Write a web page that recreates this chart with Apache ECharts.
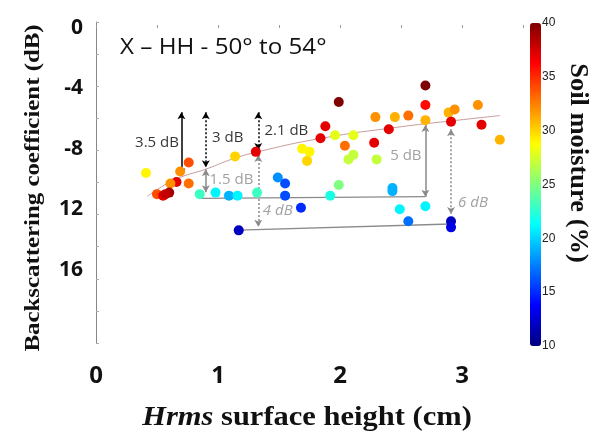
<!DOCTYPE html>
<html lang="en">
<head>
<meta charset="UTF-8">
<title>Backscattering vs Hrms</title>
<script src="https://cdn.jsdelivr.net/npm/echarts@6/dist/echarts.min.js"></script>
<style>html,body{margin:0;padding:0;background:#fff;}</style>
</head>
<body>
<div id="main" style="width:604px;height:432px;"></div>
<script>
// points: Hrms (cm), sigma0 (dB), soil moisture (%)
var hrms = [0.41,0.76,0.69,0.66,0.61,0.76,0.50,0.55,0.60,0.57,1.14,1.31,0.85,0.98,1.09,1.16,1.32,1.17,1.49,1.55,
            1.55,1.68,1.69,1.75,1.73,1.92,1.99,1.88,1.84,1.99,1.96,2.11,2.04,2.11,2.07,2.28,2.30,2.29,2.45,2.40,
            2.70,2.70,2.70,2.56,2.89,2.94,3.13,2.91,3.16,3.31,2.43,2.43,2.49,2.70,2.56,2.91,2.91];
var sigma = [-9.6,-8.9,-9.5,-10.2,-10.3,-10.3,-11.0,-11.1,-10.9,-11.0,-8.5,-8.2,-11.0,-10.9,-11.1,-11.1,-10.9,-13.4,-9.9,-10.3,
             -11.1,-11.9,-8.0,-8.2,-8.8,-11.1,-10.4,-6.5,-7.3,-4.9,-7.1,-7.1,-7.8,-8.4,-8.7,-7.6,-8.7,-5.9,-5.9,-6.7,
             -3.8,-5.1,-6.1,-5.8,-5.6,-5.4,-5.1,-6.2,-6.4,-7.4,-10.6,-10.8,-12.0,-11.8,-12.8,-12.8,-13.2];
var moisture = [29,34,32,37,32,33,34,37,39,38,30,37,23,21,19,21,23,12,18,16,
                16,15,29,29,30,22,25,37,37,40,28,28,33,27,27,37,27,32,31,37,
                40,36,31,33,31,32,32,37,37,31,19,19,21,21,17,12,13];

// fitted trend curve
var fitX = [0.42,0.64,0.92,1.11,1.33,1.85,2.46,2.98,3.31];
var fitY = [-11.15,-10.07,-9.29,-8.70,-8.19,-7.30,-6.58,-6.09,-5.80];

// grey reference lines
var low1X = [0.86, 2.70], low1Y = [-11.28, -11.17];
var low2X = [1.17, 2.91], low2Y = [-13.38, -12.98];

// arrows: [x, top, bottom]
var blackSolid = [[0.70, -5.58, -9.75]];
var blackDotted = [[0.90, -5.58, -9.22], [1.33, -5.58, -8.08]];
var greySolid = [[0.90, -9.36, -10.88], [2.70, -6.42, -11.17]];
var greyDotted = [[1.33, -8.41, -13.16], [2.91, -6.71, -12.32]];

// arrow labels: [x, y, text]
var blackNotes = [[0.50, -7.62, '3.5 dB'], [1.08, -7.28, '3 dB'], [1.56, -6.82, '2.1 dB']];
var greyNotes = [[1.11, -10.07, '1.5 dB'], [2.54, -8.48, '5 dB']];
var greyNotesItalic = [[1.49, -12.10, '4 dB'], [3.09, -11.57, '6 dB']];

var xLabelValues = [0, 1, 2, 3];
var yLabelValues = [0, -4, -8, -12, -16];
var yLabelTexts = ['0', '-4', '-8', '12', '16'];

var jet = ['#00007f','#0000ff','#007fff','#00ffff','#7fff7f','#ffff00','#ff7f00','#ff0000','#7f0000'];
var grey = '#8a8a8a';

var points = hrms.map(function (h, i) { return [h, sigma[i], moisture[i]]; });

function arrowLines(list, color, type) {
    return list.map(function (a) {
        return [
            { coord: [a[0], a[1]], lineStyle: { color: color, type: type, width: 1.5 } },
            { coord: [a[0], a[2]] }
        ];
    });
}

function noteSeries(name, list, color, italic) {
    return {
        name: name, type: 'scatter', symbolSize: 0, silent: true, z: 4,
        itemStyle: { color: 'rgba(0,0,0,0)' },
        data: list.map(function (n) { return [n[0], n[1], n[2]]; }),
        label: { show: true, position: 'inside', color: color, fontSize: 15,
                 fontStyle: italic ? 'italic' : 'normal', fontFamily: 'Open Sans',
                 formatter: function (p) { return p.data[2]; } }
    };
}

var myChart = echarts.init(document.getElementById('main'));

var option = {
    animation: false,
    grid: [
        { left: 96, top: 22, width: 427, height: 321 },
        { left: 530, top: 23, width: 11, height: 323 }
    ],
    xAxis: [{
        type: 'value', min: 0, max: 3.5, interval: 0.5,
        axisLine: { show: false },
        axisTick: { inside: true, length: 3, lineStyle: { color: '#999' } },
        splitLine: { show: false },
        axisLabel: {
            margin: 21, fontSize: 24, fontWeight: 'bold', color: '#111', fontFamily: 'Open Sans',
            formatter: function (v) { return xLabelValues.indexOf(v) >= 0 ? String(v) : ''; }
        }
    }, {
        type: 'value', gridIndex: 1, show: false, min: 0, max: 1
    }],
    yAxis: [{
        type: 'value', min: -20.86, max: 0.4,
        axisLine: { show: false },
        axisTick: { show: false },
        splitLine: { show: false },
        axisLabel: {
            customValues: yLabelValues,
            margin: 13, fontSize: 21, fontWeight: 'bold', color: '#111', fontFamily: 'Open Sans',
            formatter: function (v) {
                var k = yLabelValues.indexOf(v);
                return k >= 0 ? yLabelTexts[k] : '';
            }
        }
    }, {
        type: 'value', gridIndex: 1, position: 'right', min: 10, max: 40, interval: 5,
        axisLine: { show: false }, axisTick: { show: false }, splitLine: { show: false },
        axisLabel: { margin: 1, fontSize: 12, color: '#222', fontFamily: 'Liberation Sans' }
    }, {
        // minor tick marks of the left axis
        type: 'value', gridIndex: 0, position: 'left', min: 0, max: 10, interval: 1,
        axisLine: { show: true, lineStyle: { color: '#888', width: 1 } },
        axisTick: { inside: true, length: 3, lineStyle: { color: '#aaa' } },
        axisLabel: { show: false },
        splitLine: { show: false }
    }],
    visualMap: {
        type: 'continuous', min: 10, max: 40, dimension: 2, seriesIndex: 0,
        calculable: false, orient: 'vertical',
        left: 530, top: 23, itemWidth: 11, itemHeight: 323, padding: 0,
        text: null, hoverLink: false,
        inRange: { color: jet }
    },
    series: [{
        name: 'points', type: 'scatter', data: points,
        symbolSize: 10, z: 5, itemStyle: { opacity: 1 }
    }, {
        name: 'fit', type: 'line', smooth: true, showSymbol: false, symbol: 'none',
        data: fitX.map(function (x, i) { return [x, fitY[i]]; }),
        lineStyle: { color: '#c79a9a', width: 1 }, z: 2
    }, {
        name: 'low1', type: 'line', showSymbol: false, symbol: 'none',
        data: low1X.map(function (x, i) { return [x, low1Y[i]]; }),
        lineStyle: { color: grey, width: 1.3 }, z: 2
    }, {
        name: 'low2', type: 'line', showSymbol: false, symbol: 'none',
        data: low2X.map(function (x, i) { return [x, low2Y[i]]; }),
        lineStyle: { color: grey, width: 1.3 }, z: 2
    }, {
        name: 'arrows', type: 'line', data: [], z: 3,
        markLine: {
            silent: true, animation: false,
            symbol: ['arrow', 'arrow'], symbolSize: [6, 7],
            label: { show: false },
            data: [].concat(
                arrowLines(blackSolid, '#000', 'solid'),
                arrowLines(blackDotted, '#000', [2, 2]),
                arrowLines(greySolid, grey, 'solid'),
                arrowLines(greyDotted, grey, [2, 2])
            )
        }
    },
        noteSeries('notesBlack', blackNotes, '#000', false),
        noteSeries('notesGrey', greyNotes, grey, false),
        noteSeries('notesGreyItalic', greyNotesItalic, grey, true)
    ],
    graphic: [{
        type: 'text', x: 120, y: 48, scaleX: 1.1,
        style: { text: 'X – HH - 50° to 54°', font: '22px "Open Sans"', fill: '#111',
                 align: 'left', verticalAlign: 'middle', textAlign: 'left', textVerticalAlign: 'middle' }
    }, {
        type: 'text', x: 33, y: 188, rotation: Math.PI / 2, scaleX: 1.13,
        style: { text: 'Backscattering coefficient (dB)', font: 'bold 22px "Liberation Serif"', fill: '#111',
                 align: 'center', verticalAlign: 'middle', textAlign: 'center', textVerticalAlign: 'middle' }
    }, {
        type: 'text', x: 577, y: 163, rotation: -Math.PI / 2, scaleX: 1.06,
        style: { text: 'Soil moisture (%)', font: 'bold 25px "Liberation Serif"', fill: '#111',
                 align: 'center', verticalAlign: 'middle', textAlign: 'center', textVerticalAlign: 'middle' }
    }, {
        type: 'text', x: 307, y: 418, scaleX: 1.13,
        style: {
            text: '{i|Hrms} surface height (cm)',
            font: 'bold 27px "Liberation Serif"', fill: '#111',
            align: 'center', verticalAlign: 'middle', textAlign: 'center', textVerticalAlign: 'middle',
            rich: { i: { fontStyle: 'italic', fontWeight: 'bold', fontSize: 27, fontFamily: 'Liberation Serif' } }
        }
    }]
};

myChart.setOption(option);
</script>
</body>
</html>
